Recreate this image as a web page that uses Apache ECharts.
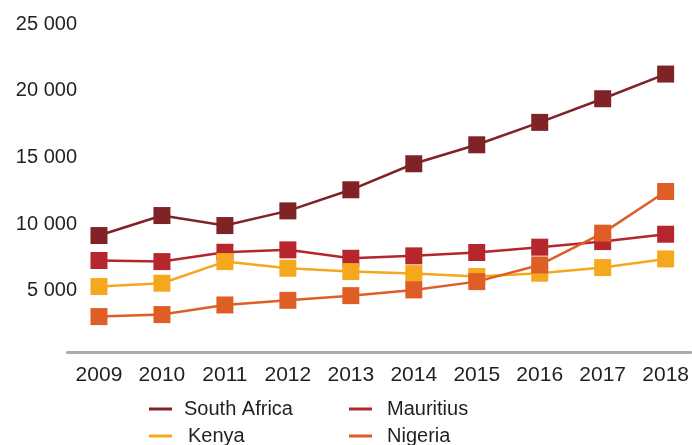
<!DOCTYPE html>
<html>
<head>
<meta charset="utf-8">
<script src="https://cdn.jsdelivr.net/npm/echarts@6/dist/echarts.min.js"></script>
<style>
  html, body { margin: 0; padding: 0; background: #fff; }
  #chart { width: 692px; height: 445px; }
</style>
</head>
<body>
<div id="chart"></div>
<script>
const years = ['2009', '2010', '2011', '2012', '2013', '2014', '2015', '2016', '2017', '2018'];
const southAfrica = [9150, 10650, 9900, 11000, 12580, 14530, 15950, 17630, 19400, 21250];
const mauritius = [7280, 7200, 7900, 8080, 7450, 7630, 7880, 8280, 8700, 9250];
const kenya = [5330, 5580, 7200, 6700, 6450, 6300, 6080, 6330, 6750, 7400];
const nigeria = [3080, 3230, 3950, 4300, 4650, 5080, 5700, 6950, 9330, 12450];
const yTicks = [0, 5000, 10000, 15000, 20000, 25000];

const colors = {
  'South Africa': '#7f2327',
  'Mauritius': '#b5262d',
  'Kenya': '#f5a81e',
  'Nigeria': '#df5e26'
};
const font = 'Liberation Sans, Arial, Helvetica, sans-serif';

// year index -> value pairs so the x axis can run past the last year like the original
function makeSeries(name, data) {
  return {
    name: name,
    type: 'line',
    data: data.map((v, i) => [i, v]),
    symbol: 'rect',
    symbolSize: 17,
    color: colors[name],
    lineStyle: { width: 2.5, color: colors[name] },
    itemStyle: { color: colors[name] },
    z: 2
  };
}

const chart = echarts.init(document.getElementById('chart'));
const legendBase = {
  orient: 'vertical',
  icon: 'rect',
  itemWidth: 23,
  itemHeight: 3,
  itemGap: 7,
  top: 399,
  height: 80,
  padding: 0,
  textStyle: { fontSize: 20, color: '#231f20', fontFamily: font, padding: [0, 0, 0, 7] }
};

chart.setOption({
  animation: false,
  textStyle: { fontFamily: font },
  grid: { left: 67.5, right: 0, top: 24, bottom: 87.3, containLabel: false },
  legend: [
    Object.assign({}, legendBase, {
      data: ['South Africa', { name: 'Kenya', textStyle: { padding: [0, 0, 0, 11] } }],
      left: 149
    }),
    Object.assign({}, legendBase, {
      data: ['Mauritius', 'Nigeria'],
      left: 349,
      textStyle: Object.assign({}, legendBase.textStyle, { padding: [0, 0, 0, 10] })
    })
  ],
  xAxis: {
    type: 'value',
    min: -0.5,
    max: 9.4,
    offset: -5,
    splitLine: { show: false },
    axisLine: { lineStyle: { color: '#b3a9a3', width: 3 } },
    axisTick: { show: false },
    axisLabel: {
      fontSize: 21,
      color: '#231f20',
      margin: 12,
      customValues: years.map((y, i) => i),
      formatter: function (v) { return years[Math.round(v)]; }
    }
  },
  yAxis: {
    type: 'value',
    min: yTicks[0],
    max: yTicks[yTicks.length - 1],
    interval: 5000,
    axisLine: { show: false },
    axisTick: { show: false },
    splitLine: { show: false },
    axisLabel: {
      fontSize: 20,
      color: '#231f20',
      margin: -9.5,
      formatter: function (v) {
        if (v === 0) return '';
        return String(v).replace(/\B(?=(\d{3})+(?!\d))/g, ' ');
      }
    }
  },
  series: [
    makeSeries('South Africa', southAfrica),
    makeSeries('Mauritius', mauritius),
    makeSeries('Kenya', kenya),
    makeSeries('Nigeria', nigeria)
  ]
});
</script>
</body>
</html>
